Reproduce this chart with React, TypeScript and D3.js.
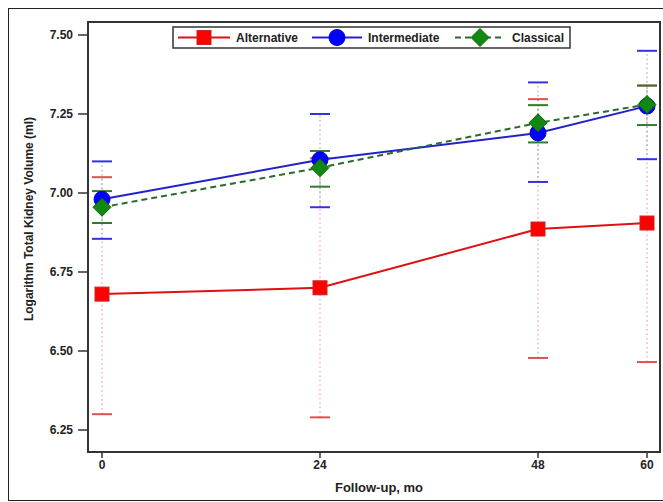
import React from "react";
import * as d3 from "d3";

const months = [0, 24, 48, 60];
const xTickLabels = ["0", "24", "48", "60"];
const yTicks = [6.25, 6.5, 6.75, 7.0, 7.25, 7.5];

const altMean = [6.68, 6.70, 6.886, 6.905];
const altLower = [6.30, 6.29, 6.478, 6.465];
const altUpper = [7.05, 7.11, 7.297, 7.34];

const intMean = [6.98, 7.105, 7.19, 7.275];
const intLower = [6.855, 6.955, 7.035, 7.107];
const intUpper = [7.10, 7.25, 7.35, 7.45];

const claMean = [6.955, 7.08, 7.222, 7.28];
const claLower = [6.905, 7.02, 7.16, 7.215];
const claUpper = [7.006, 7.133, 7.278, 7.34];

const seriesNames = ["Alternative", "Intermediate", "Classical"];

const W = 663, H = 502;
const L = 88, R = 660, T = 22, B = 452;

export default function App() {
  const x = d3.scaleLinear().domain([0, 60]).range([102, 647]);
  const y = d3.scaleLinear().domain([6.25, 7.5]).range([430, 35]);
  const font = "'Liberation Sans', Arial, sans-serif";

  const series = [
    { name: seriesNames[0], mean: altMean, lo: altLower, hi: altUpper, shape: "square" },
    { name: seriesNames[1], mean: intMean, lo: intLower, hi: intUpper, shape: "circle" },
    { name: seriesNames[2], mean: claMean, lo: claLower, hi: claUpper, shape: "diamond" },
  ];
  const lineGen = (vals: number[]) =>
    d3.line<number>().x((_, i) => x(months[i])).y((v) => y(v))(vals) || "";

  const marker = (shape: string, cx: number, cy: number, key: string) => {
    if (shape === "square")
      return <rect key={key} x={cx - 7} y={cy - 7} width={14} height={14} fill="#ff0000" stroke="#cc2222" strokeWidth={1} />;
    if (shape === "circle")
      return <circle key={key} cx={cx} cy={cy} r={8} fill="#0000ff" stroke="#0000cc" strokeWidth={1} />;
    return <path key={key} d={`M${cx},${cy - 9}L${cx + 9},${cy}L${cx},${cy + 9}L${cx - 9},${cy}Z`} fill="#118811" stroke="#0a660a" strokeWidth={1} />;
  };

  const errColors = ["#e05050", "#3333dd", "#2e7d2e"];
  const dotColors = ["#e88", "#99a", "#8a8"];

  return (
    <svg width={W} height={H} style={{ position: "absolute", left: 0, top: 0, background: "#fff" }} fontFamily={font}>
      <rect x={8.5} y={8.5} width={660} height={492} fill="none" stroke="#222" strokeWidth={1} />
      {series.map((s, si) =>
        months.map((m, i) => (
          <line key={`d${si}-${i}`} x1={x(m)} x2={x(m)} y1={y(s.lo[i])} y2={y(s.hi[i])}
            stroke={dotColors[si]} strokeWidth={1} strokeDasharray="1.5,3" />
        ))
      )}
      {series.map((s, si) =>
        months.map((m, i) => (
          <g key={`c${si}-${i}`}>
            <line x1={x(m) - 10} x2={x(m) + 10} y1={y(s.hi[i])} y2={y(s.hi[i])} stroke={errColors[si]} strokeWidth={2} />
            <line x1={x(m) - 10} x2={x(m) + 10} y1={y(s.lo[i])} y2={y(s.lo[i])} stroke={errColors[si]} strokeWidth={2} />
          </g>
        ))
      )}
      <path d={lineGen(altMean)} fill="none" stroke="#dd1111" strokeWidth={2} />
      <path d={lineGen(intMean)} fill="none" stroke="#2222cc" strokeWidth={2} />
      <path d={lineGen(claMean)} fill="none" stroke="#2a6a2a" strokeWidth={2} strokeDasharray="6,4" />
      {series.map((s, si) => months.map((m, i) => marker(s.shape, x(m), y(s.mean[i]), `m${si}-${i}`)))}
      <rect x={L} y={T} width={R - L} height={B - T} fill="none" stroke="#333" strokeWidth={2} />
      {yTicks.map((t) => (
        <g key={`y${t}`}>
          <line x1={L - 10} x2={L} y1={y(t)} y2={y(t)} stroke="#333" strokeWidth={1.5} />
          <text x={L - 15} y={y(t)} dy="0.35em" textAnchor="end" fontSize={12} fontWeight="bold" fill="#222">{d3.format(".2f")(t)}</text>
        </g>
      ))}
      {months.map((m, i) => (
        <g key={`x${m}`}>
          <line x1={x(m)} x2={x(m)} y1={B} y2={B + 6} stroke="#333" strokeWidth={1.5} />
          <text x={x(m)} y={B + 17} textAnchor="middle" fontSize={12} fontWeight="bold" fill="#222">{xTickLabels[i]}</text>
        </g>
      ))}
      <text x={379} y={492} textAnchor="middle" fontSize={13} fontWeight="bold" fill="#222">Follow-up, mo</text>
      <text transform={`translate(33,219) rotate(-90)`} textAnchor="middle" fontSize={12} fontWeight="bold" fill="#222">Logarithm Total Kidney Volume (ml)</text>
      <g>
        <rect x={173} y={27} width={397} height={21} fill="#fff" stroke="#333" strokeWidth={1.5} />
        <line x1={178} x2={230} y1={37.5} y2={37.5} stroke="#dd1111" strokeWidth={2} />
        {marker("square", 204, 37.5, "lg0")}
        <text x={236} y={37.5} dy="0.35em" fontSize={12} fontWeight="bold" fill="#222">{seriesNames[0]}</text>
        <line x1={312} x2={362} y1={37.5} y2={37.5} stroke="#2222cc" strokeWidth={2} />
        {marker("circle", 337, 37.5, "lg1")}
        <text x={368} y={37.5} dy="0.35em" fontSize={12} fontWeight="bold" fill="#222">{seriesNames[1]}</text>
        <line x1={455} x2={505} y1={37.5} y2={37.5} stroke="#2a6a2a" strokeWidth={2} strokeDasharray="6,4" />
        {marker("diamond", 480, 37.5, "lg2")}
        <text x={512} y={37.5} dy="0.35em" fontSize={12} fontWeight="bold" fill="#222">{seriesNames[2]}</text>
      </g>
    </svg>
  );
}
